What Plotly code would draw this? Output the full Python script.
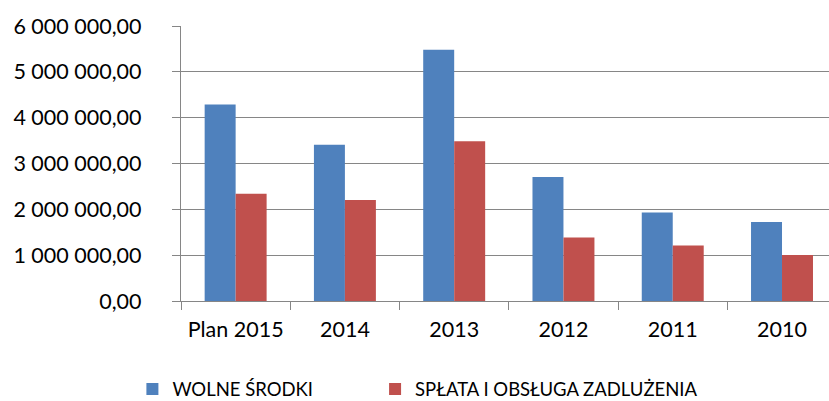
import plotly.graph_objects as go

categories = ["Plan 2015", "2014", "2013", "2012", "2011", "2010"]
wolne_srodki = [4285000, 3407000, 5484000, 2703000, 1931000, 1722000]
splata = [2339000, 2201000, 3487000, 1387000, 1212000, 1003000]
y_tickvals = [0, 1000000, 2000000, 3000000, 4000000, 5000000, 6000000]
y_ticktext = ["0,00", "1 000 000,00", "2 000 000,00", "3 000 000,00",
              "4 000 000,00", "5 000 000,00", "6 000 000,00"]

FONT = "Lato"
fig = go.Figure()
fig.add_trace(go.Bar(x=categories, y=wolne_srodki, name="WOLNE ŚRODKI",
                     marker=dict(color="#4F81BD", line=dict(width=0)),
                     legend="legend"))
fig.add_trace(go.Bar(x=categories, y=splata, name="SPŁATA I OBSŁUGA ZADLUŻENIA",
                     marker=dict(color="#C0504D", line=dict(width=0)),
                     legend="legend2"))

leg_common = dict(orientation="h", yanchor="middle", y=-0.322, xanchor="left",
                  font=dict(family=FONT, size=18.5, color="#000000"),
                  itemwidth=30, bgcolor="rgba(0,0,0,0)")

fig.update_layout(
    width=829, height=401,
    margin=dict(l=181, r=0, t=26, b=100, autoexpand=False),
    paper_bgcolor="white", plot_bgcolor="white",
    barmode="group", bargap=0.433, bargroupgap=0,
    font=dict(family=FONT, size=21.5, color="#000000"),
    showlegend=True,
    legend=dict(x=-0.075, **leg_common),
    legend2=dict(x=0.2995, **leg_common),
    xaxis=dict(range=[-0.5, 5.43], showline=True, linecolor="#868686", linewidth=1.4,
               ticks="outside", tickson="boundaries", ticklen=8, tickcolor="#868686",
               tickwidth=1.4, showgrid=False, ticklabelstandoff=9,
               tickfont=dict(family=FONT, size=21.5)),
    yaxis=dict(range=[0, 6000000], tickvals=y_tickvals, ticktext=y_ticktext,
               showline=True, linecolor="#868686", linewidth=1.4,
               ticks="outside", ticklen=8, tickcolor="#868686", tickwidth=1.4,
               showgrid=True, gridcolor="#868686", gridwidth=1.4,
               zeroline=False, ticklabelstandoff=26,
               tickfont=dict(family=FONT, size=21.5)),
)

fig.write_html("out.html", config={"displayModeBar": False},
               post_script="document.body.style.margin='0';document.body.style.overflow='hidden';")
